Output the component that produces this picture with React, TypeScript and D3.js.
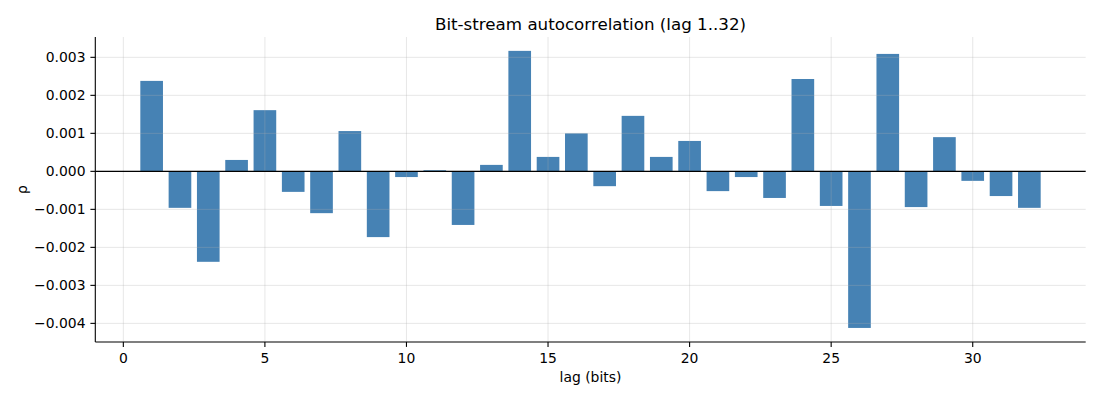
import React from "react";
import * as d3 from "d3";

const lags: number[] = d3.range(1, 33);
const rho: number[] = [
  0.00238, -0.00096, -0.00238, 0.0003, 0.00161, -0.00054, -0.0011, 0.00106,
  -0.00173, -0.00015, 0.00003, -0.00141, 0.00017, 0.00317, 0.00038, 0.001,
  -0.00039, 0.00146, 0.00038, 0.0008, -0.00052, -0.00015, -0.0007, 0.00243,
  -0.00091, -0.00412, 0.00309, -0.00094, 0.0009, -0.00025, -0.00065, -0.00096,
];
const xTicks: number[] = [0, 5, 10, 15, 20, 25, 30];
const yTicks: number[] = [-0.004, -0.003, -0.002, -0.001, 0, 0.001, 0.002, 0.003];
const title = "Bit-stream autocorrelation (lag 1..32)";
const xLabel = "lag (bits)";
const yLabel = "ρ";

const W = 1100;
const H = 400;
const left = 95.3;
const right = 1085.7;
const top = 37;
const bottom = 342;
const FONT = "DejaVu Sans, sans-serif";

export default function App() {
  const x = d3.scaleLinear().domain([-0.99, 33.99]).range([left, right]);
  const y = d3.scaleLinear().domain([-0.00449, 0.003535]).range([bottom, top]);
  const barW = x(0.8) - x(0);
  const fmt = (v: number) => {
    const s = d3.format(".3f")(Math.abs(v));
    return (v < -1e-12 ? "\u2212" : "") + s;
  };
  return (
    <div style={{ position: "fixed", left: 0, top: 0 }}>
      <svg width={W} height={H} style={{ display: "block", background: "#fff" }}>
        {lags.map((l, i) => {
          const v = rho[i];
          return (
            <rect
              key={l}
              x={x(l) - barW / 2}
              y={y(Math.max(0, v))}
              width={barW}
              height={Math.abs(y(v) - y(0))}
              fill="#4682b4"
            />
          );
        })}
        {xTicks.map((t) => (
          <line key={"gx" + t} x1={x(t)} x2={x(t)} y1={top} y2={bottom} stroke="#b0b0b0" strokeOpacity={0.3} strokeWidth={1} />
        ))}
        {yTicks.map((t) => (
          <line key={"gy" + t} x1={left} x2={right} y1={y(t)} y2={y(t)} stroke="#b0b0b0" strokeOpacity={0.3} strokeWidth={1} />
        ))}
        <line x1={left} x2={right} y1={y(0)} y2={y(0)} stroke="#000" strokeWidth={1.1} />
        <line x1={left} x2={left} y1={top} y2={bottom} stroke="#000" strokeWidth={1.1} />
        <line x1={left} x2={right} y1={bottom} y2={bottom} stroke="#000" strokeWidth={1.1} />
        {xTicks.map((t) => (
          <g key={"tx" + t}>
            <line x1={x(t)} x2={x(t)} y1={bottom} y2={bottom + 4.9} stroke="#000" strokeWidth={1.1} />
            <text x={x(t)} y={bottom + 20.5} textAnchor="middle" fontFamily={FONT} fontSize={13.9} fill="#000">
              {t}
            </text>
          </g>
        ))}
        {yTicks.map((t) => (
          <g key={"ty" + t}>
            <line x1={left - 4.9} x2={left} y1={y(t)} y2={y(t)} stroke="#000" strokeWidth={1.1} />
            <text x={left - 9.8} y={y(t)} dy="0.35em" textAnchor="end" fontFamily={FONT} fontSize={13.9} fill="#000">
              {fmt(t)}
            </text>
          </g>
        ))}
        <text x={(left + right) / 2} y={29.5} textAnchor="middle" fontFamily={FONT} fontSize={16.7} fill="#000">
          {title}
        </text>
        <text x={(left + right) / 2} y={382} textAnchor="middle" fontFamily={FONT} fontSize={13.9} fill="#000">
          {xLabel}
        </text>
        <text
          transform={`translate(27, ${(top + bottom) / 2}) rotate(-90)`}
          textAnchor="middle"
          fontFamily={FONT}
          fontSize={13.9}
          fill="#000"
        >
          {yLabel}
        </text>
      </svg>
    </div>
  );
}
